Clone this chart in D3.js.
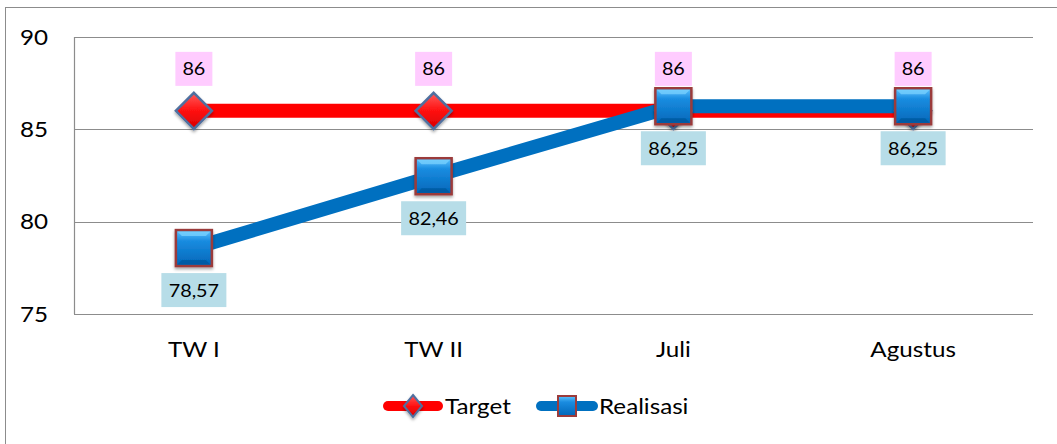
<!DOCTYPE html>
<html>
<head>
<meta charset="utf-8">
<script src="https://cdn.jsdelivr.net/npm/d3@7"></script>
<style>
  html, body { margin: 0; padding: 0; background: #fff; }
  svg { display: block; font-family: Lato, "Open Sans", sans-serif; }
</style>
</head>
<body>
<div id="chart"></div>
<script>
const categories = ["TW I", "TW II", "Juli", "Agustus"];
const target = [86, 86, 86, 86];
const realisasi = [78.57, 82.46, 86.25, 86.25];
const targetLabels = ["86", "86", "86", "86"];
const realisasiLabels = ["78,57", "82,46", "86,25", "86,25"];
const yTicks = [75, 80, 85, 90];

const width = 1057, height = 444;
const margin = { left: 74, right: 24, top: 37, bottom: 130 };
const stretch = 1.1;

const svg = d3.select("#chart").append("svg")
  .attr("width", width).attr("height", height);

const defs = svg.append("defs");

const redGrad = defs.append("linearGradient").attr("id", "redGrad")
  .attr("x1", 0).attr("y1", 0).attr("x2", 0).attr("y2", 1);
redGrad.append("stop").attr("offset", "0%").attr("stop-color", "#ff5a5a");
redGrad.append("stop").attr("offset", "50%").attr("stop-color", "#ff1010");
redGrad.append("stop").attr("offset", "100%").attr("stop-color", "#d80000");

const blueGrad = defs.append("linearGradient").attr("id", "blueGrad")
  .attr("x1", 0).attr("y1", 0).attr("x2", 0).attr("y2", 1);
blueGrad.append("stop").attr("offset", "0%").attr("stop-color", "#5ec4ff");
blueGrad.append("stop").attr("offset", "30%").attr("stop-color", "#1a8ce0");
blueGrad.append("stop").attr("offset", "100%").attr("stop-color", "#0066b8");

const shadow = defs.append("filter").attr("id", "shadow")
  .attr("x", "-30%").attr("y", "-30%").attr("width", "160%").attr("height", "160%");
shadow.append("feDropShadow").attr("dx", 0).attr("dy", 2)
  .attr("stdDeviation", 1.5).attr("flood-color", "#000").attr("flood-opacity", 0.35);

// stretched text like the original (slightly wide Calibri)
function wideText(g, px, py, str, size, anchor) {
  return g.append("text")
    .attr("transform", `translate(${px},${py}) scale(${stretch},1)`)
    .attr("text-anchor", anchor).attr("font-size", size).attr("fill", "#000")
    .text(str);
}

// outer chart border (only top/left visible in the frame)
svg.append("rect")
  .attr("x", 5.5).attr("y", 7.5)
  .attr("width", width + 20).attr("height", height + 20)
  .attr("fill", "none").attr("stroke", "#8c8c8c").attr("stroke-width", 1);

const x = d3.scaleBand().domain(categories)
  .range([margin.left, width - margin.right]);
const y = d3.scaleLinear().domain([75, 90])
  .range([height - margin.bottom, margin.top]);
const cx = (c) => x(c) + x.bandwidth() / 2;

// gridlines
svg.append("g").selectAll("line").data(yTicks).join("line")
  .attr("x1", margin.left).attr("x2", width - margin.right)
  .attr("y1", (d) => Math.round(y(d)) + 0.5).attr("y2", (d) => Math.round(y(d)) + 0.5)
  .attr("stroke", "#8c8c8c").attr("stroke-width", 1.2);

// y axis line
svg.append("line")
  .attr("x1", margin.left + 0.5).attr("x2", margin.left + 0.5)
  .attr("y1", y(90)).attr("y2", y(75))
  .attr("stroke", "#8c8c8c").attr("stroke-width", 1.2);

// y tick labels
const yLab = svg.append("g");
yTicks.forEach((d) => wideText(yLab, 48, y(d) + 7.5, d, 22, "end"));

// x labels
const xLab = svg.append("g");
categories.forEach((d) => wideText(xLab, cx(d), 357, d, 22, "middle"));

const line = d3.line().x((d, i) => cx(categories[i])).y((d) => y(d));

svg.append("path").datum(target)
  .attr("d", line).attr("fill", "none")
  .attr("stroke", "#ff0000").attr("stroke-width", 14);

svg.append("path").datum(realisasi)
  .attr("d", line).attr("fill", "none")
  .attr("stroke", "#0070c0").attr("stroke-width", 14);

function diamond(g, px, py, rx, ry, sw) {
  g.append("path")
    .attr("d", `M${px},${py - ry}L${px + rx},${py}L${px},${py + ry}L${px - rx},${py}Z`)
    .attr("fill", "url(#redGrad)").attr("stroke", "#4f6f9f").attr("stroke-width", sw)
    .attr("filter", "url(#shadow)");
}

function square(g, px, py, s) {
  g.append("rect")
    .attr("x", px - s / 2).attr("y", py - s / 2)
    .attr("width", s).attr("height", s)
    .attr("fill", "url(#blueGrad)").attr("stroke", "#9b3b3b").attr("stroke-width", 2.5)
    .attr("filter", "url(#shadow)");
  // bevel edges
  const h = s / 2, b = 6;
  g.append("path")
    .attr("d", `M${px - h + 1.5},${py - h + 1.5}L${px - h + b},${py - h + b}L${px + h - b},${py - h + b}L${px + h - 1.5},${py - h + 1.5}Z`)
    .attr("fill", "#7fd4ff").attr("opacity", 0.7);
  g.append("path")
    .attr("d", `M${px - h + 1.5},${py + h - 1.5}L${px - h + b},${py + h - b}L${px + h - b},${py + h - b}L${px + h - 1.5},${py + h - 1.5}Z`)
    .attr("fill", "#004c8c").attr("opacity", 0.5);
}

const markers = svg.append("g");
target.forEach((v, i) => diamond(markers, cx(categories[i]), y(v), 18, 18, 2.5));
realisasi.forEach((v, i) => square(markers, cx(categories[i]), y(v), 36));

// data labels
function label(g, px, cyy, text, bg, w) {
  const h = 34;
  g.append("rect")
    .attr("x", px - w / 2).attr("y", cyy - h / 2)
    .attr("width", w).attr("height", h).attr("fill", bg);
  wideText(g, px, cyy + 6.5, text, 18, "middle");
}

const labels = svg.append("g");
target.forEach((v, i) =>
  label(labels, cx(categories[i]), y(v) - 42, targetLabels[i], "#ffccff", 37));
realisasi.forEach((v, i) =>
  label(labels, cx(categories[i]), y(v) + 42, realisasiLabels[i], "#b7dde8", 65));

// legend
const legend = svg.append("g");
const ly = 406;
legend.append("line")
  .attr("x1", 388).attr("x2", 438).attr("y1", ly).attr("y2", ly)
  .attr("stroke", "#ff0000").attr("stroke-width", 10).attr("stroke-linecap", "round");
diamond(legend, 413, ly, 9, 11, 2);
wideText(legend, 445, ly + 7.5, "Target", 22, "start");

legend.append("line")
  .attr("x1", 541).attr("x2", 593).attr("y1", ly).attr("y2", ly)
  .attr("stroke", "#0070c0").attr("stroke-width", 10).attr("stroke-linecap", "round");
legend.append("rect")
  .attr("x", 558).attr("y", ly - 10).attr("width", 18).attr("height", 20)
  .attr("fill", "url(#blueGrad)").attr("stroke", "#9b3b3b").attr("stroke-width", 2);
wideText(legend, 599, ly + 7.5, "Realisasi", 22, "start");
</script>
</body>
</html>
